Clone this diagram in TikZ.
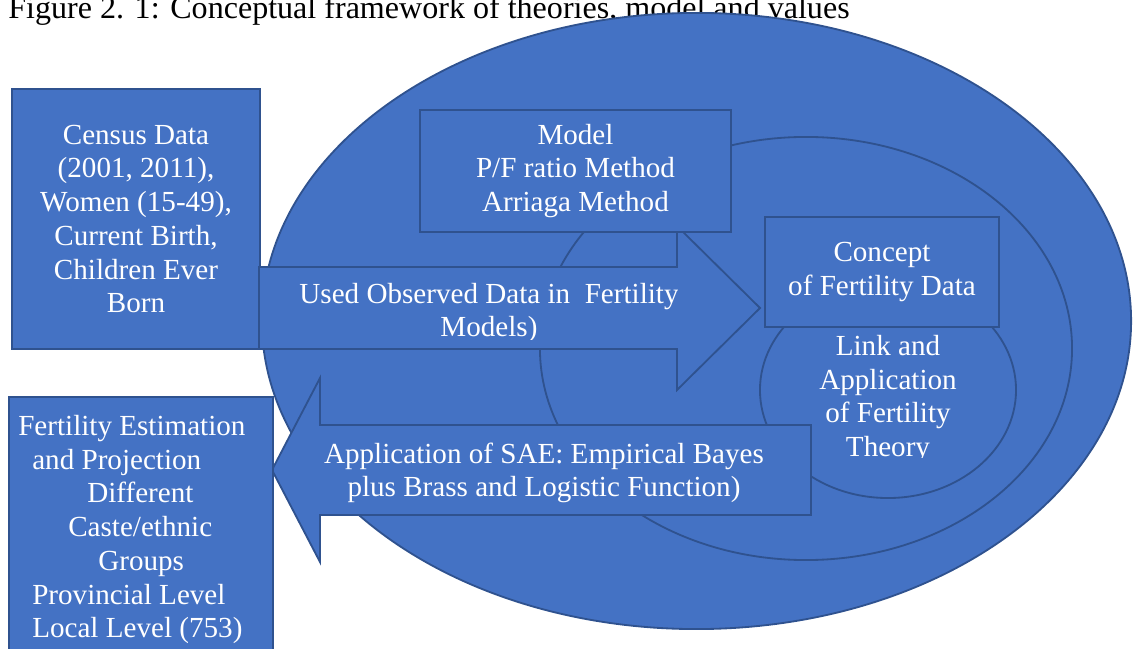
\documentclass[tikz,border=0pt]{standalone}
\usepackage{fontspec}
\setmainfont{Liberation Serif}
\usetikzlibrary{shapes.geometric}
\definecolor{officeblue}{HTML}{4472C4}
\definecolor{edgeblue}{HTML}{2F528F}
\newcommand{\bodyfont}{\fontsize{20.7}{24}\selectfont}
\tikzset{
  ring/.style={ellipse, draw=edgeblue, fill=officeblue, line width=1.3pt, inner sep=0pt},
  panel/.style={rectangle, draw=edgeblue, fill=officeblue, line width=1.3pt, inner sep=0pt,
    text=white, align=center, font=\bodyfont},
  words/.style={text=white, align=center, inner sep=0pt, font=\bodyfont},
  blockarrow/.style={draw=edgeblue, fill=officeblue, line width=1.3pt, line join=miter}
}
\begin{document}
\begin{tikzpicture}[x=0.025cm, y=-0.025cm]
  \useasboundingbox (0,0) rectangle (1134,649);
  % caption, cut at the top edge
  \node[anchor=base west, inner sep=0pt, font=\fontsize{22.8}{26}\selectfont] (caption) at (8,19)
    {Figure 2. 1: Conceptual framework of theories, model and values};
  % nested ellipses
  \node[ring, minimum width=21.725cm, minimum height=15.4cm] (outer) at (696.5,321) {};
  \node[ring, minimum width=13.3cm, minimum height=10.575cm] (middle) at (806,348.5) {};
  \node[ring, minimum width=6.4cm, minimum height=5.4cm] (inner) at (888,390) {};
  % data box
  \node[panel, minimum width=6.2cm, minimum height=6.5cm] (census) at (136,219)
    {Census Data\\(2001, 2011),\\Women (15-49),\\Current Birth,\\Children Ever\\Born};
  % arrow to the right
  \draw[blockarrow] (259,267) -- (677,267) -- (677,226) -- (760,308) -- (677,390)
    -- (677,349) -- (259,349) -- cycle;
  \begin{scope}
    \clip (259,267) rectangle (677,340);
    \node[words] (usedtext) at (489,313) {Used Observed Data in\ \ Fertility\\Models)};
  \end{scope}
  \node[panel, minimum width=7.775cm, minimum height=3.05cm] (model) at (575.5,171)
    {Model\\P/F ratio Method\\Arriaga Method};
  \node[panel, minimum width=5.85cm, minimum height=2.75cm] (concept) at (882,272)
    {Concept\\of Fertility Data};
  % arrow to the left
  \draw[blockarrow] (811,425) -- (320,425) -- (320,378) -- (272,470) -- (320,562)
    -- (320,515) -- (811,515) -- cycle;
  \node[words] (saetext) at (544,473)
    {Application of SAE: Empirical Bayes\\plus Brass and Logistic Function)};
  \begin{scope}
    \clip (780,320) rectangle (1000,458);
    \node[words] (linktext) at (888,399) {Link and\\Application\\of Fertility\\Theory};
  \end{scope}
  % output box
  \node[panel, minimum width=6.6cm, minimum height=6.65cm] (estimate) at (141,530) {};
  \node[words, align=left, anchor=north west] (esttext) at (18,415)
    {Fertility Estimation\\\hspace*{0.35cm}and Projection\\\hspace*{1.725cm}Different\\
     \hspace*{1.25cm}Caste/ethnic\\\hspace*{2cm}Groups\\\hspace*{0.35cm}Provincial Level\\
     \hspace*{0.35cm}Local Level (753)};
\end{tikzpicture}
\end{document}
